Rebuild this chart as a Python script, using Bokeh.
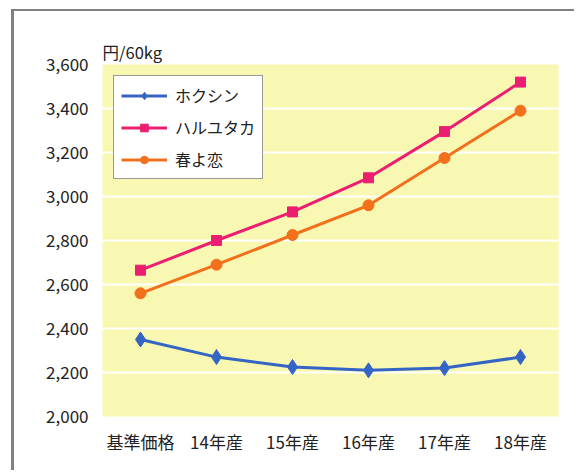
from bokeh.plotting import figure
from bokeh.models import (FactorRange, FixedTicker, NumeralTickFormatter, Legend,
                          LegendItem, ColumnDataSource)
from bokeh.embed import file_html
from bokeh.resources import INLINE

categories = ["基準価格", "14年産", "15年産", "16年産", "17年産", "18年産"]
hokushin = [2350, 2270, 2225, 2210, 2220, 2270]
haruyutaka = [2665, 2800, 2930, 3085, 3295, 3520]
harukoi = [2560, 2690, 2825, 2960, 3175, 3390]
y_ticks = [2000, 2200, 2400, 2600, 2800, 3000, 3200, 3400, 3600]
unit_label = "円/60kg"

FONT = "Noto Sans CJK JP"

p = figure(width=565, height=461, x_range=FactorRange(*categories, range_padding=0),
           y_range=(2000, 3600), output_backend="svg", toolbar_location=None,
           min_border_left=88, min_border_right=21, min_border_top=53,
           min_border_bottom=56, title=unit_label,
           styles={"box-shadow": "-3px -2px 0 0 #808080",
                   "clip-path": "inset(-6px 5px -6px -6px)",
                   "margin-left": "14px", "margin-top": "11px"})
p.background_fill_color = "#F8F8B2"
p.border_fill_color = "white"
p.outline_line_color = None

p.title.text_font = FONT
p.title.text_font_size = "16.5px"
p.title.text_font_style = "normal"
p.title.text_color = "#222222"
p.title.align = "left"
p.title.standoff = 1

p.xgrid.grid_line_color = None
p.ygrid.grid_line_color = "white"
p.ygrid.grid_line_width = 2
p.yaxis.ticker = FixedTicker(ticks=y_ticks)
p.yaxis.formatter = NumeralTickFormatter(format="0,0")

for ax in (p.xaxis[0], p.yaxis[0]):
    ax.axis_line_color = None
    ax.major_tick_line_color = None
    ax.minor_tick_line_color = None
    ax.major_label_text_font = FONT
    ax.major_label_text_font_size = "17px"
    ax.major_label_text_color = "#222222"
p.yaxis.major_label_standoff = 8
p.xaxis.major_label_standoff = 6

series = [
    ("ホクシン", hokushin, "#3565C4", "diamond", 15),
    ("ハルユタカ", haruyutaka, "#EC1E72", "square", 10),
    ("春よ恋", harukoi, "#F2701C", "circle", 11),
]
items = []
for name, vals, color, marker, size in series:
    src = ColumnDataSource(dict(x=categories, y=vals))
    ln = p.line("x", "y", source=src, line_color=color, line_width=3)
    sc = p.scatter("x", "y", source=src, marker=marker, size=size,
                   fill_color=color, line_color=color)
    items.append(LegendItem(label=name, renderers=[ln, sc]))

legend = Legend(items=items, location="top_left")
legend.margin = 11
legend.padding = 7
legend.spacing = 8
legend.glyph_width = 46
legend.glyph_height = 19
legend.label_height = 19
legend.label_standoff = 8
legend.label_text_font = FONT
legend.label_text_font_size = "16px"
legend.label_text_color = "#222222"
legend.border_line_color = "#333333"
legend.border_line_width = 1.5
legend.background_fill_color = "white"
legend.background_fill_alpha = 1
p.add_layout(legend)

open("out.html", "w").write(file_html(p, INLINE))
